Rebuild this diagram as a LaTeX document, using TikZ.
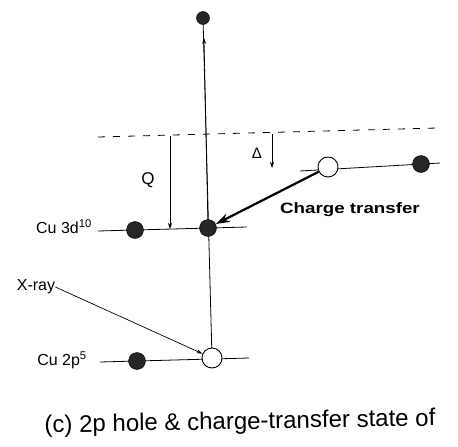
\documentclass[tikz,border=0pt]{standalone}
\usepackage{fontspec}
\setmainfont{Liberation Sans}
\usetikzlibrary{arrows.meta}
\pgfdeclarelayer{bg}
\pgfsetlayers{bg,main}
\begin{document}
\begin{tikzpicture}[x=1pt,y=-1pt,
  lvl/.style={line width=0.8pt},
  elec/.style={circle,fill=black!85,draw=black,inner sep=0pt,minimum size=17pt},
  holec/.style={circle,fill=white,draw=black,line width=0.9pt,inner sep=0pt,minimum size=20pt},
  lab/.style={inner sep=0pt,font=\fontsize{16}{18}\selectfont},
  arr/.style={-{Stealth[length=6pt,width=4pt]},line width=0.7pt},
  dashln/.style={line width=0.8pt,dash pattern=on 7pt off 8pt}]
\useasboundingbox (0,0) rectangle (458,447);
% nodes
\node[elec,minimum size=13pt] (top) at (203,18) {};
\node[elec] (e3a) at (135,230) {};
\node[elec] (e3b) at (208,228) {};
\node[elec] (e2a) at (137,361) {};
\node[holec] (h2) at (212,358) {};
\node[holec] (hr) at (328,167) {};
\node[elec] (er) at (421,164) {};
\coordinate (d0) at (98,231);
\coordinate (d1) at (247,227);
\coordinate (p0) at (100,362);
\coordinate (p1) at (249,358);
\coordinate (r0) at (300,171);
\coordinate (r1) at (440,163);
\coordinate (dl) at (98,137);
\coordinate (dr) at (437,128);
\coordinate (tip) at (204,38);
\coordinate (qa) at (170,136);
\coordinate (qb) at (170,229);
\coordinate (da) at (272,134);
\coordinate (db) at (272,168);
% labels
\node[lab] (l3d) at (64,227) {Cu 3d\textsuperscript{10}};
\node[lab] (l2p) at (62,360) {Cu 2p\textsuperscript{5}};
\node[lab] (xl) at (36,287) {X-ray};
\node[lab,font=\fontsize{17}{19}\selectfont] (q) at (148,180) {Q};
\node[lab,font=\fontsize{15}{17}\selectfont] (dlt) at (257,153) {Δ};
\node[lab,font=\fontsize{15}{17}\selectfont\bfseries] (ct) at (350,210) {\scalebox{1.25}[1]{Charge transfer}};
\node[inner sep=0pt,font=\fontsize{24}{28}\selectfont,rotate=1] (cap) at (240,423) {(c) 2p hole \& charge-transfer state of};
\begin{pgfonlayer}{bg}
\draw[lvl] (d0) -- (d1);
\draw[lvl] (p0) -- (p1);
\draw[lvl] (r0) -- (r1);
\draw[dashln] (dl) -- (dr);
\draw[lvl] (h2.center) -- (top.center);
\draw[arr] (e3b.center) -- (tip);
\draw[arr] (qa) -- (qb);
\draw[arr] (da) -- (db);
\draw[arr] (xl.east) -- (h2);
\end{pgfonlayer}
\draw[-{Stealth[length=14pt,width=9pt]},line width=2.2pt] (hr) -- (e3b);
\end{tikzpicture}
\end{document}
